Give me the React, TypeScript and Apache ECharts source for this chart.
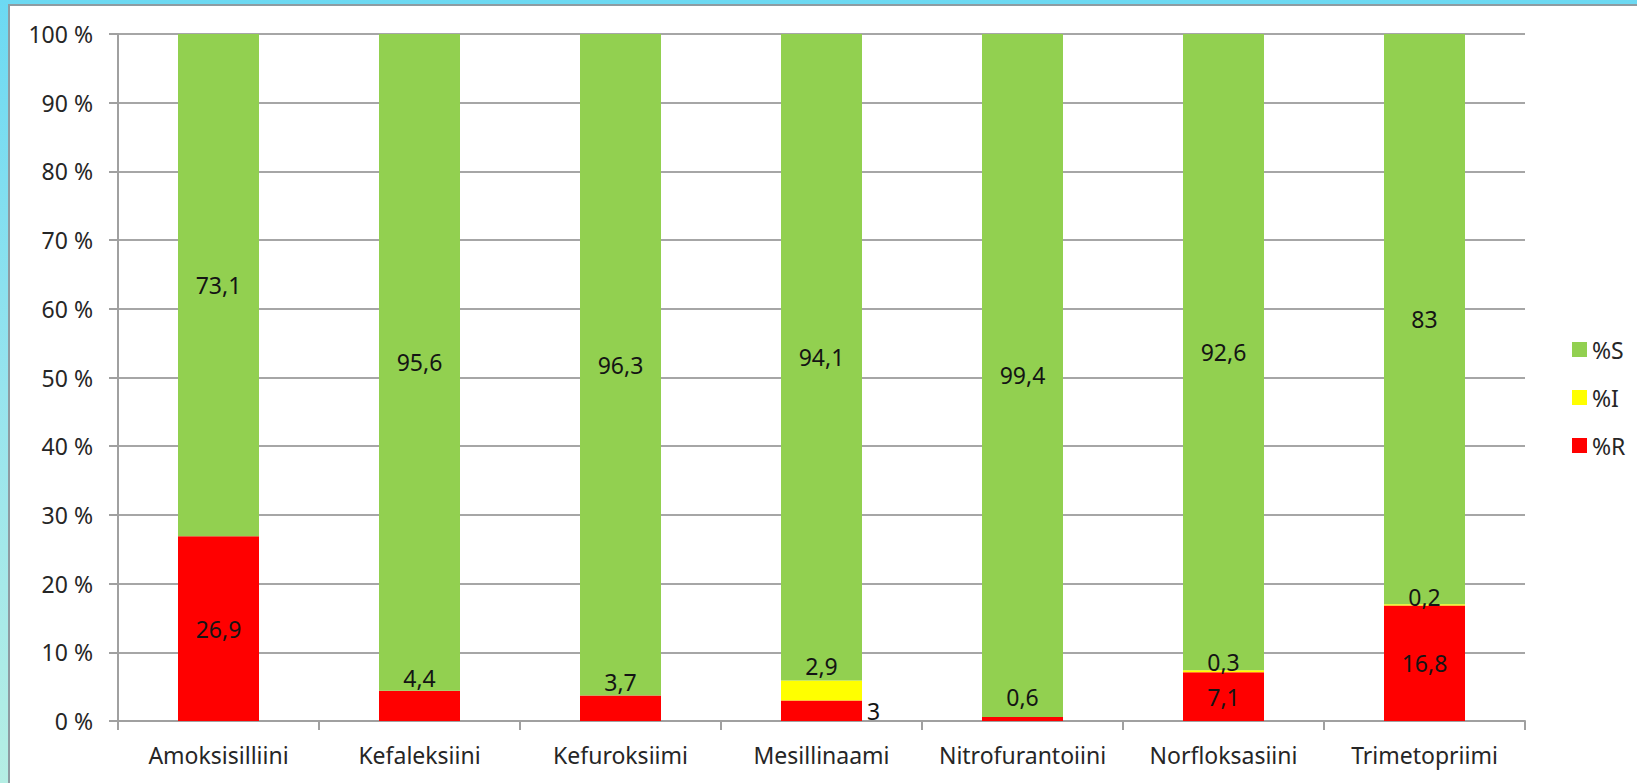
import React, { useEffect, useRef } from "react";
import * as echarts from "echarts";

const categories = [
  "Amoksisilliini",
  "Kefaleksiini",
  "Kefuroksiimi",
  "Mesillinaami",
  "Nitrofurantoiini",
  "Norfloksasiini",
  "Trimetopriimi",
];
const valuesR = [26.9, 4.4, 3.7, 3, 0.6, 7.1, 16.8];
const valuesI = [0, 0, 0, 2.9, 0, 0.3, 0.2];
const valuesS = [73.1, 95.6, 96.3, 94.1, 99.4, 92.6, 83];
const yTicks = [0, 10, 20, 30, 40, 50, 60, 70, 80, 90, 100];

// label placement styling (not data)
const labelR = [
  { position: "inside" },
  { position: "top", distance: 1 },
  { position: "top", distance: 2.5 },
  { position: "right", distance: 5 },
  { position: "top", distance: 8 },
  { position: "inside" },
  { position: "inside" },
];
const labelI = [
  null,
  null,
  null,
  { position: "top", distance: 2.5 },
  null,
  { position: "top", distance: -3.5 },
  { position: "top", distance: -4 },
];

const FONT = "'Noto Sans', 'Open Sans', sans-serif";
const fmt = (v: number) => String(v).replace(".", ",");

export default function App() {
  const ref = useRef<HTMLDivElement>(null);
  useEffect(() => {
    document.body.style.margin = "0";
    const chart = echarts.init(ref.current!, null, { renderer: "svg" });
    const labelBase = {
      show: true,
      color: "#141414",
      fontSize: 23,
      fontFamily: FONT,
      formatter: (p: any) => (p.value ? fmt(p.value) : ""),
    };
    const mk = (vals: number[], cfg: any[]) =>
      vals.map((v, i) => {
        const c = cfg[i];
        if (!c) return { value: v, label: { show: false } };
        return { value: v, label: { ...c } };
      });
    chart.setOption({
      animation: false,
      backgroundColor: "#ffffff",
      graphic: [
        {
          type: "rect",
          shape: { x: 0, y: 0, width: 1637, height: 783 },
          style: {
            fill: new echarts.graphic.LinearGradient(0, 0, 0, 1, [
              { offset: 0, color: "#6CD9F2" },
              { offset: 0.5, color: "#97E4EE" },
              { offset: 1, color: "#B5EEE4" },
            ]),
          },
          z: -10,
          silent: true,
        },
        {
          type: "rect",
          shape: { x: 9, y: 5, width: 1640, height: 790 },
          style: { fill: "#ffffff", stroke: "#8E9CA2", lineWidth: 2 },
          z: -9,
          silent: true,
        },
      ],
      grid: { left: 118, right: 112, top: 34, bottom: 62 },
      legend: {
        orient: "vertical",
        left: 1567,
        top: 333,
        itemWidth: 15,
        itemHeight: 15,
        itemGap: 25,
        icon: "rect",
        data: ["%S", "%I", "%R"],
        textStyle: { fontSize: 23, fontFamily: FONT, color: "#262626" },
      },
      xAxis: {
        type: "category",
        data: categories,
        axisLine: { lineStyle: { color: "#A0A0A0", width: 2 } },
        axisTick: { show: true, length: 9, lineStyle: { color: "#A0A0A0", width: 2 } },
        axisLabel: { interval: 0, fontSize: 23, fontFamily: FONT, color: "#262626", margin: 22 },
      },
      yAxis: {
        type: "value",
        min: 0,
        max: 100,
        interval: 10,
        axisLine: { show: true, lineStyle: { color: "#A0A0A0", width: 2 } },
        axisTick: { show: true, length: 9, lineStyle: { color: "#A0A0A0", width: 2 } },
        splitLine: { lineStyle: { color: "#A6A6A6", width: 2 } },
        axisLabel: {
          fontSize: 23,
          fontFamily: FONT,
          color: "#262626",
          margin: 25,
          formatter: (v: number) => (yTicks.includes(v) ? `${v} %` : ""),
        },
      },
      series: [
        {
          name: "%R",
          type: "bar",
          stack: "a",
          barWidth: 81,
          itemStyle: { color: "#FF0000" },
          label: labelBase,
          data: mk(valuesR, labelR),
        },
        {
          name: "%I",
          type: "bar",
          stack: "a",
          barWidth: 81,
          itemStyle: { color: "#FFFF00" },
          label: labelBase,
          data: mk(valuesI, labelI),
        },
        {
          name: "%S",
          type: "bar",
          stack: "a",
          barWidth: 81,
          itemStyle: { color: "#92D050" },
          label: { ...labelBase, position: "inside" },
          data: valuesS,
        },
      ],
    });
    return () => chart.dispose();
  }, []);
  return <div ref={ref} style={{ width: 1637, height: 783 }} />;
}
